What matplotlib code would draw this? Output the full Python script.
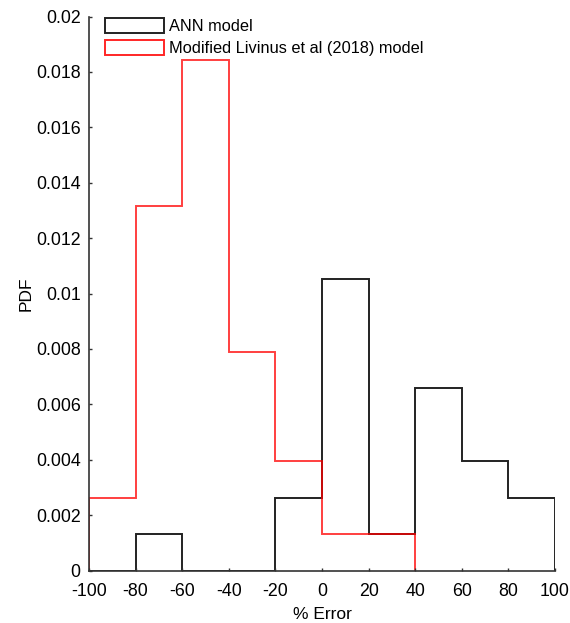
import matplotlib
matplotlib.use("Agg")
import matplotlib.pyplot as plt
from matplotlib.patches import Patch

plt.rcParams['font.family'] = ['Liberation Sans', 'DejaVu Sans']

# Histogram bin edges (% error) and probability densities
ann_edges = [-100, -80, -60, -40, -20, 0, 20, 40, 60, 80, 100]
ann_pdf = [0.0, 0.001316, 0.0, 0.0, 0.00263, 0.01053, 0.001316, 0.00658, 0.00395, 0.00263]

liv_edges = [-100, -80, -60, -40, -20, 0, 20, 40]
liv_pdf = [0.00263, 0.01316, 0.01842, 0.00789, 0.00395, 0.001316, 0.001316]

series_labels = ["ANN model", "Modified Livinus et al (2018) model"]
x_ticks = [-100, -80, -60, -40, -20, 0, 20, 40, 60, 80, 100]
y_ticks = [0, 0.002, 0.004, 0.006, 0.008, 0.01, 0.012, 0.014, 0.016, 0.018, 0.02]

fig = plt.figure(figsize=(5.70, 6.23), dpi=100)
ax = fig.add_axes([89 / 570, 1 - 570.5 / 623, (555 - 89) / 570, (570.5 - 16.5) / 623])

ax.stairs(ann_pdf, ann_edges, baseline=0, color='#222222', linewidth=1.4)
ax.stairs(liv_pdf, liv_edges, baseline=0, color='#ff0000', linewidth=1.4, alpha=0.75)

ax.set_xlim(-100, 100)
ax.set_ylim(0, 0.02)
ax.set_xticks(x_ticks)
ax.set_yticks(y_ticks)
ax.set_xticklabels([f"{v:g}" for v in x_ticks])
ax.set_yticklabels([f"{v:g}" for v in y_ticks])
ax.tick_params(direction='in', length=2.5, width=1, colors='#333333', labelcolor='black',
               labelsize=12.8)
ax.tick_params(axis='x', pad=9)
ax.tick_params(axis='y', pad=6)

for side in ('top', 'right'):
    ax.spines[side].set_visible(False)
for side in ('left', 'bottom'):
    ax.spines[side].set_color('#333333')
    ax.spines[side].set_linewidth(1.2)

ax.set_xlabel("% Error", fontsize=12.5, labelpad=5)
ax.set_ylabel("PDF", fontsize=12.5, labelpad=2)

handles = [
    Patch(facecolor='none', edgecolor='#222222', linewidth=1.4),
    Patch(facecolor='none', edgecolor='#ff0000', linewidth=1.4, alpha=0.85),
]
ax.legend(handles, series_labels, loc='upper left', bbox_to_anchor=(0.035, 0.997),
          frameon=False, fontsize=11.8, handlelength=3.6, handleheight=1.05,
          handletextpad=0.3, labelspacing=0.35, borderpad=0.0, borderaxespad=0.0)

fig.savefig("out.png", dpi=100)
